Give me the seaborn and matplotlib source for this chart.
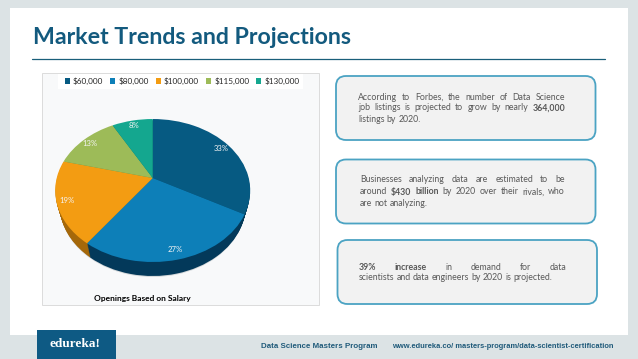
import numpy as np
import matplotlib
matplotlib.use('Agg')
import matplotlib.pyplot as plt
import seaborn as sns
from matplotlib.patches import FancyBboxPatch, Rectangle
from matplotlib.transforms import Transform, Affine2D

salary = ['$60,000', '$80,000', '$100,000', '$115,000', '$130,000']
openings = [33, 27, 19, 13, 8]
top_colors = ['#065a82', '#0d7fb8', '#f39c12', '#9dbb58', '#14a78f']
side_colors = ['#043a56', '#03395a', '#a5680a', '#6d8a3a', '#0c7565']
shadow_colors = ['#d4d8da'] * 5

box1_lines = [['According', 'to', 'Forbes,', 'the', 'number', 'of', 'Data', 'Science'],
              ['job', 'listings', 'is', 'projected', 'to', 'grow', 'by', 'nearly', '*364,000'],
              ['listings', 'by', '2020.']]
box2_lines = [['Businesses', 'analyzing', 'data', 'are', 'estimated', 'to', 'be'],
              ['around', '*$430', '*billion', 'by', '2020', 'over', 'their', 'rivals,', 'who'],
              ['are', 'not', 'analyzing.']]
box3_lines = [['*39%', '*increase', 'in', 'demand', 'for', 'data'],
              ['scientists', 'and', 'data', 'engineers', 'by', '2020', 'is', 'projected.']]

sns.set_theme(style='white')
plt.rcParams['font.family'] = ['Lato', 'DejaVu Sans']


# tilted pie: perspective from the unit circle to pixel coordinates
class Tilt(Transform):
    input_dims = 2
    output_dims = 2

    def __init__(self, cx, cy, bx, ay, k):
        super().__init__()
        self.cx, self.cy, self.bx, self.ay, self.k = cx, cy, bx, ay, k

    def transform_non_affine(self, values):
        values = np.asarray(values, dtype=float)
        w = 1 + self.k * values[:, 1]
        return np.column_stack([self.cx + self.bx * values[:, 0] / w,
                                self.cy - self.ay * values[:, 1] / w])


fig = plt.figure(figsize=(6.38, 3.59), dpi=100, facecolor='#dce3e5')
ax = fig.add_axes([0, 0, 1, 1])


def draw_pie(colors, dy, zorder, **kwargs):
    res = ax.pie(openings, colors=colors, startangle=90, counterclock=False,
                 wedgeprops={'linewidth': 0}, **kwargs)
    # lower layers get narrower so the side tapers off at both ends
    bx = 96 * (1 - 0.045 * dy / 14)
    tr = Tilt(152.7, 178, bx, 69.3, 0.175) + Affine2D().translate(0, dy) + ax.transData
    for w in res[0]:
        w.set_transform(tr)
        w.set_zorder(zorder)
    if len(res) > 2:
        for t in res[2]:
            t.set_transform(tr)
            t.set_zorder(zorder + 1)
            t.set_color('#f4f4f4')
            t.set_fontsize(5.6)
    return res


draw_pie(shadow_colors, 15, 2)
for dy in range(14, 0, -1):
    draw_pie(side_colors, dy, 3)
wedges, _, pct = draw_pie(top_colors, 0, 4, autopct='%.0f%%', pctdistance=0.9)

ax.set_aspect('auto')
ax.set_xlim(0, 638)
ax.set_ylim(359, 0)
ax.axis('off')

# slide background
ax.add_patch(Rectangle((10, 8), 618, 327, fc='white', ec='none', zorder=0))
ax.add_patch(Rectangle((37, 330), 79, 29, fc='#0e5a84', ec='none', zorder=1))
ax.text(75, 344, 'edureka!', color='white', family='Liberation Serif', fontsize=9.5,
        fontweight='bold', ha='center', va='center', zorder=2)
ax.text(33, 38, 'Market Trends and Projections', color='#135a7e', fontsize=16.7,
        fontweight='bold', va='center', zorder=2)
ax.plot([32, 605], [59, 59], color='#1a5f7a', lw=0.9, zorder=2)

# chart panel
ax.add_patch(Rectangle((42, 73), 277, 232, fc='#f8f9fa', ec='#dcdcdc', lw=0.7, zorder=1))
ax.add_patch(Rectangle((58, 74), 245, 15, fc='white', ec='none', zorder=1))
ax.text(142.5, 298, 'Openings Based on Salary', color='black', fontsize=6.0,
        fontweight='bold', ha='center', va='center', zorder=2)
leg = ax.legend(wedges, salary, ncol=5, frameon=False, fontsize=5.9,
                loc='center', bbox_to_anchor=(182, 81), bbox_transform=ax.transData,
                handlelength=0.65, handleheight=0.65, handletextpad=0.35,
                columnspacing=0.85, borderpad=0, labelcolor='#262626')
leg.set_zorder(5)

renderer = fig.canvas.get_renderer()


def put_line(words, x0, x1, y, justify):
    items = []
    for word in words:
        bold = word.startswith('*')
        t = ax.text(0, y, word.lstrip('*'), fontsize=6.3, color='#595959', va='center',
                    fontweight='bold' if bold else 'normal', zorder=6)
        items.append((t, t.get_window_extent(renderer).width))
    total = sum(w for _, w in items)
    gap = (x1 - x0 - total) / (len(items) - 1) if justify else 2.2
    x = x0
    for t, w in items:
        t.set_x(x)
        x += w + gap


boxes = [((336, 76), 259.5, 64, box1_lines, 358, 565, [97, 108, 120]),
         ((336, 159.5), 259.5, 64, box2_lines, 360, 565, [180, 192, 204]),
         ((337.5, 240), 259.5, 64, box3_lines, 359, 566, [267, 278])]
for xy, w, h, lines, x0, x1, ys in boxes:
    ax.add_patch(FancyBboxPatch((xy[0] + 10, xy[1] + 10), w - 20, h - 20,
                                boxstyle='round,pad=10,rounding_size=10',
                                fc='#f2f2f2', ec='#4ba3c3', lw=1.3, zorder=5))
    for i, (line, y) in enumerate(zip(lines, ys)):
        put_line(line, x0, x1, y, i < len(lines) - 1)

# footer
ax.text(261, 347, 'Data Science Masters Program', family='Liberation Sans', fontsize=5.7,
        fontweight='bold', color='#1f5a7a', va='center', zorder=2)
ax.text(392, 347, 'www.edureka.co/ masters-program/data-scientist-certification',
        family='Liberation Sans', fontsize=5.45, fontweight='bold', color='#1f5a7a',
        va='center', zorder=2)

fig.savefig('out.png', dpi=100, facecolor=fig.get_facecolor())
